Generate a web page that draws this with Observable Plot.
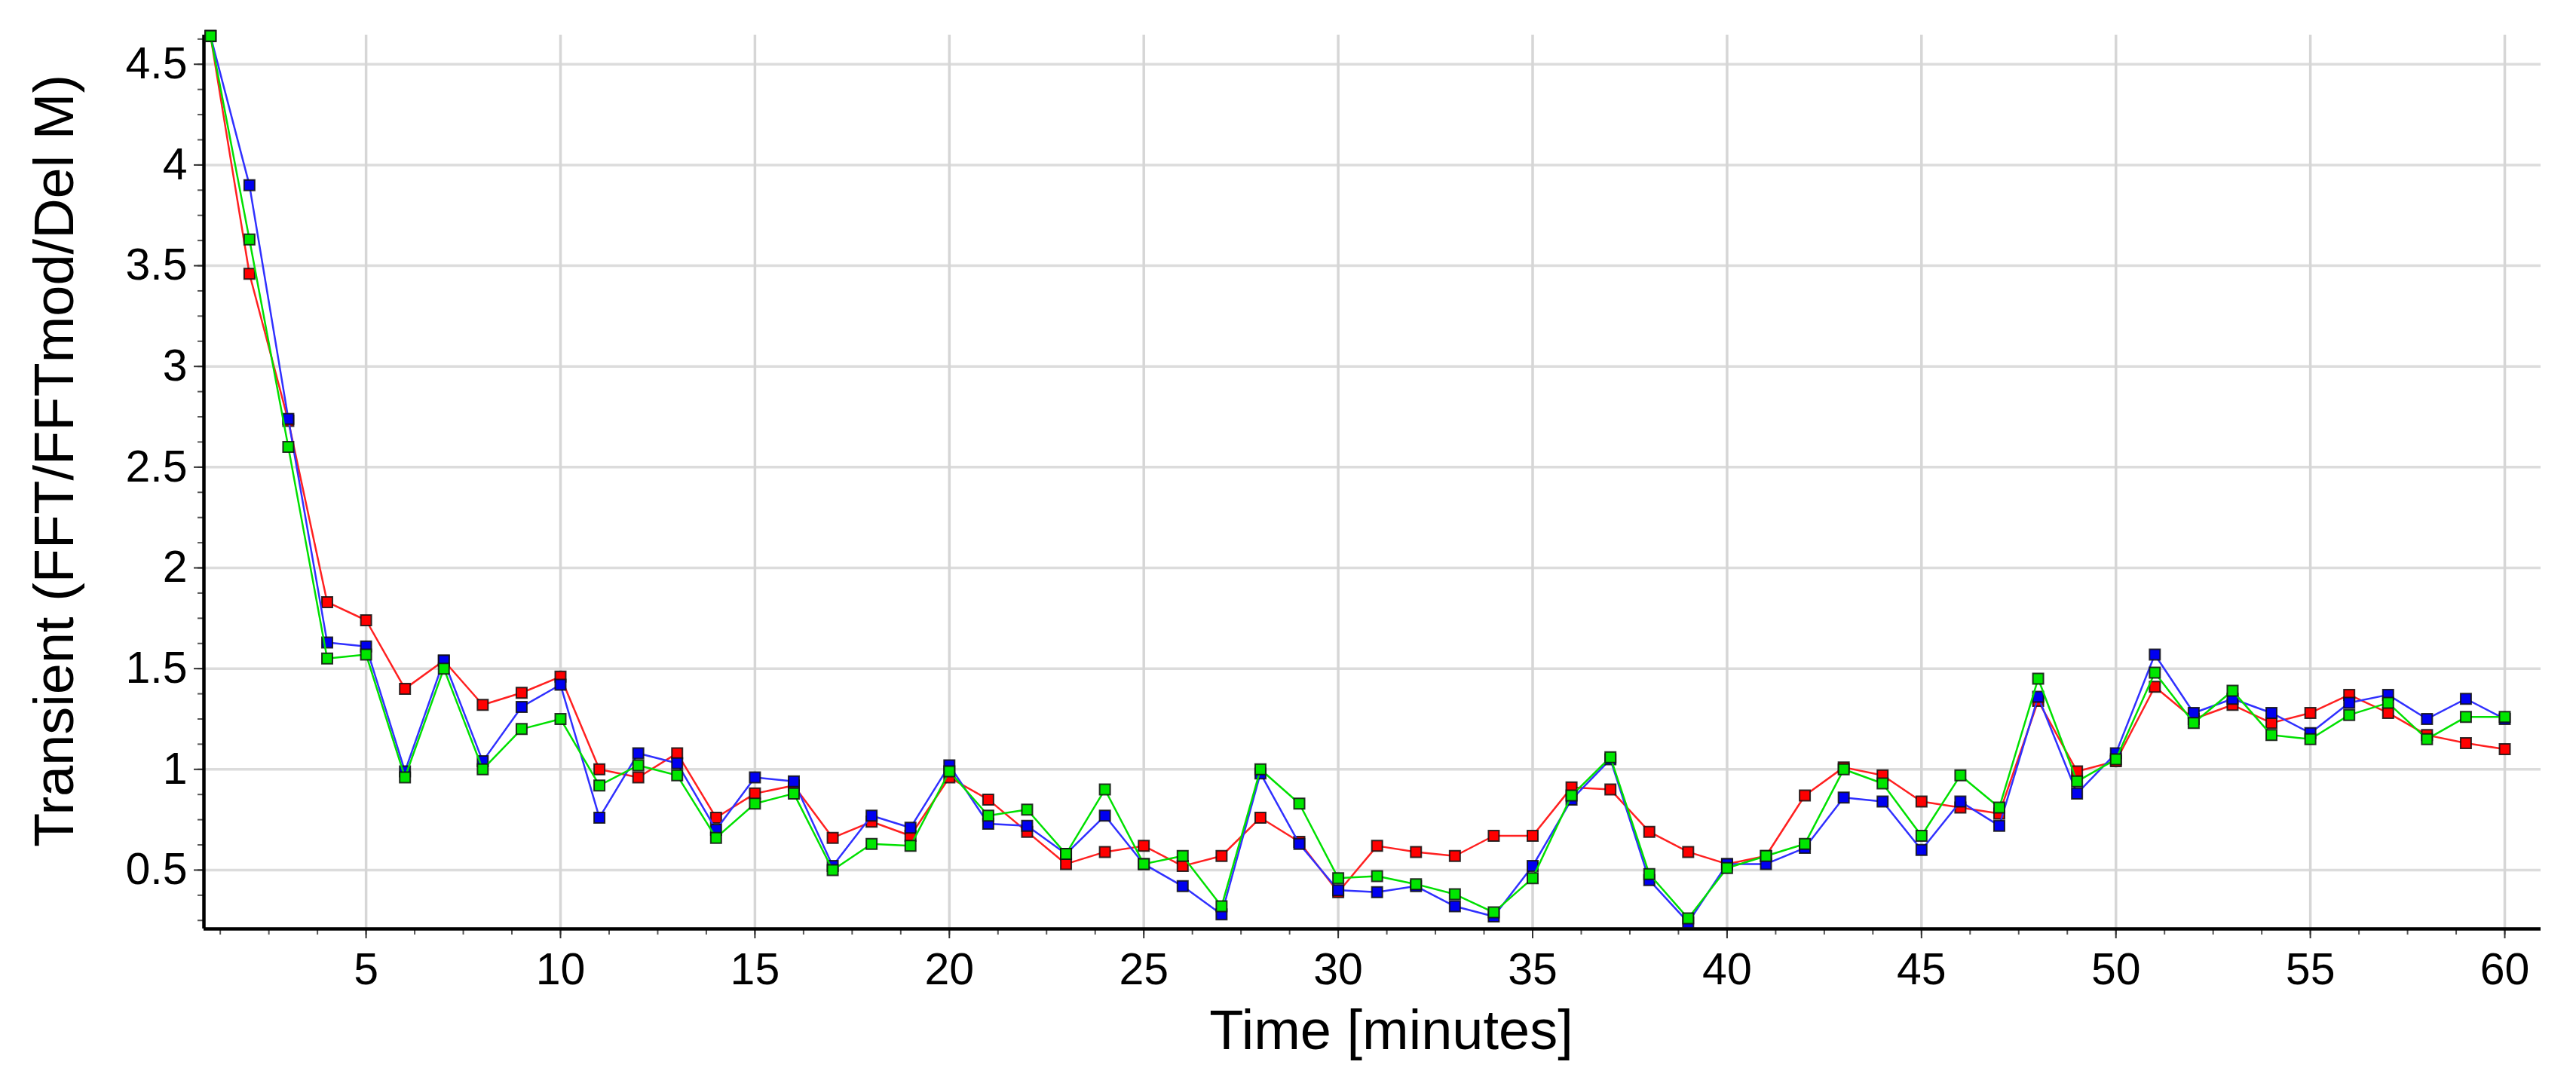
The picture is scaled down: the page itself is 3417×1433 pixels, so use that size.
<!DOCTYPE html>
<html>
<head>
<meta charset="utf-8">
<script src="https://cdn.jsdelivr.net/npm/d3@7"></script>
<script src="https://cdn.jsdelivr.net/npm/@observablehq/plot@0.6"></script>
<style>
html, body { margin: 0; padding: 0; background: #fff; overflow: hidden; }
</style>
</head>
<body>
<div id="chart"></div>
<script>
// ---- data ----
const minutes = [1,2,3,4,5,6,7,8,9,10,11,12,13,14,15,16,17,18,19,20,21,22,23,24,25,26,27,28,29,30,
  31,32,33,34,35,36,37,38,39,40,41,42,43,44,45,46,47,48,49,50,51,52,53,54,55,56,57,58,59,60];

const redValues = [4.64,3.46,2.73,1.83,1.74,1.40,1.54,1.32,1.38,1.46,
  1.00,0.96,1.08,0.76,0.88,0.92,0.66,0.74,0.67,0.96,
  0.85,0.69,0.53,0.59,0.62,0.52,0.57,0.76,0.64,0.39,
  0.62,0.59,0.57,0.67,0.67,0.91,0.90,0.69,0.59,0.53,
  0.57,0.87,1.01,0.97,0.84,0.81,0.78,1.34,0.99,1.04,
  1.41,1.25,1.32,1.23,1.28,1.37,1.28,1.17,1.13,1.10];

const blueValues = [4.64,3.90,2.74,1.63,1.61,0.99,1.54,1.04,1.31,1.42,
  0.76,1.08,1.03,0.70,0.96,0.94,0.52,0.77,0.71,1.02,
  0.73,0.72,0.58,0.77,0.53,0.42,0.28,0.98,0.63,0.40,
  0.39,0.42,0.32,0.27,0.52,0.85,1.05,0.45,0.24,0.53,
  0.53,0.61,0.86,0.84,0.60,0.84,0.72,1.36,0.88,1.08,
  1.57,1.28,1.35,1.28,1.18,1.33,1.37,1.25,1.35,1.25];

const greenValues = [4.64,3.63,2.60,1.55,1.57,0.96,1.50,1.00,1.20,1.25,
  0.92,1.02,0.97,0.66,0.83,0.88,0.50,0.63,0.62,0.99,
  0.77,0.80,0.58,0.90,0.53,0.57,0.32,1.00,0.83,0.46,
  0.47,0.43,0.38,0.29,0.46,0.87,1.06,0.48,0.26,0.51,
  0.57,0.63,1.00,0.93,0.67,0.97,0.81,1.45,0.94,1.05,
  1.48,1.23,1.39,1.17,1.15,1.27,1.33,1.15,1.26,1.26];

const xTicks = [5,10,15,20,25,30,35,40,45,50,55,60];
const yTicks = [0.5,1,1.5,2,2.5,3,3.5,4,4.5];
const xLabel = "Time [minutes]";
const yLabel = "Transient (FFT/FFTmod/Del M)";

// ---- build table ----
const seriesDefs = [
  {name: "red", values: redValues, line: "#ff2020", fill: "#ff0000"},
  {name: "blue", values: blueValues, line: "#3030ff", fill: "#0000f0"},
  {name: "green", values: greenValues, line: "#00e000", fill: "#00e600"}
];

const xMinor = d3.range(1.25, 60.01, 1.25);
const yMinor = d3.range(0.25, 4.63, 0.125);

const seriesMarks = seriesDefs.flatMap(s => {
  const rows = minutes.map((m, i) => ({minute: m, value: s.values[i]}));
  return [
    Plot.line(rows, {x: "minute", y: "value", stroke: s.line, strokeWidth: 2.5}),
    Plot.dot(rows, {x: "minute", y: "value", symbol: "square", r: 7.9, fill: s.fill,
      stroke: "#111", strokeWidth: 2, strokeOpacity: 0.85})
  ];
});

const chart = Plot.plot({
  width: 3417,
  height: 1433,
  marginLeft: 270,
  marginRight: 47,
  marginTop: 46,
  marginBottom: 201,
  style: {fontFamily: "'Liberation Sans', Arial, sans-serif", fontSize: "59px", color: "#000", background: "#fff"},
  x: {domain: [0.83, 60.93], label: null},
  y: {domain: [0.208, 4.645], label: null},
  marks: [
    Plot.gridY(yTicks, {stroke: "#dcdcdc", strokeOpacity: 1, strokeWidth: 3.5}),
    Plot.gridX(xTicks, {stroke: "#d6d6d6", strokeOpacity: 1, strokeWidth: 3.5}),
    Plot.axisX(xMinor, {tickSize: 8, tickFormat: () => "", label: null, stroke: "#555", strokeWidth: 2}),
    Plot.axisX(xTicks, {tickSize: 13, tickPadding: 19, fontSize: 59, tickFormat: d => String(d), label: null, stroke: "#333", strokeWidth: 2}),
    Plot.axisY(yMinor, {tickSize: 8, tickFormat: () => "", label: null, stroke: "#555", strokeWidth: 2}),
    Plot.axisY(yTicks, {tickSize: 13, tickPadding: 9, fontSize: 59, tickFormat: d => String(d), label: null, stroke: "#333", strokeWidth: 2}),
    Plot.ruleY([0.208], {stroke: "#000", strokeWidth: 4.5}),
    Plot.ruleX([0.83], {stroke: "#000", strokeWidth: 4.5}),
    ...seriesMarks,
    Plot.text([xLabel], {text: d => d, frameAnchor: "bottom", textAnchor: "middle", lineAnchor: "middle", dx: 25, dy: 136, fontSize: 74, fill: "#000"}),
    Plot.text([yLabel], {text: d => d, frameAnchor: "left", textAnchor: "middle", lineAnchor: "middle", rotate: -90, dx: -197, dy: -28, fontSize: 74, fill: "#000"})
  ]
});

document.getElementById("chart").appendChild(chart);
</script>
</body>
</html>
